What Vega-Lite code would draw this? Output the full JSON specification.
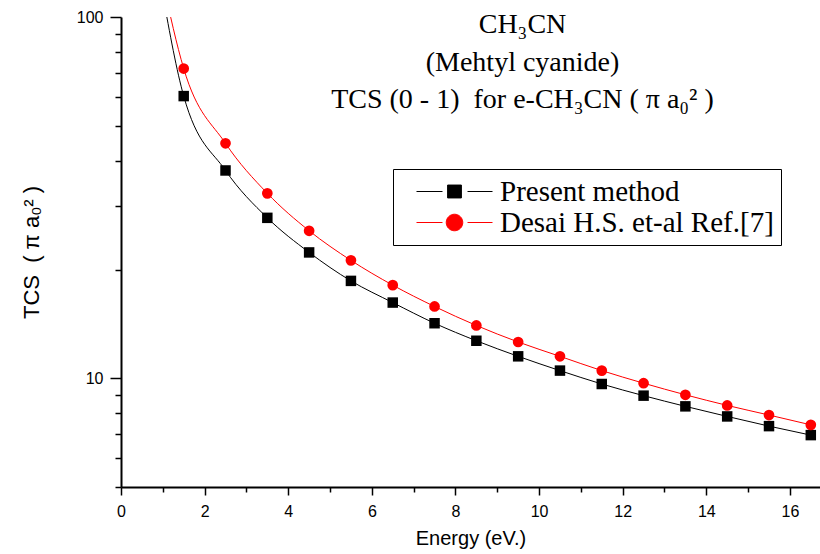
{
  "$schema": "https://vega.github.io/schema/vega-lite/v6.json",
  "width": 699,
  "height": 470,
  "autosize": {"type": "none"},
  "padding": {"left": 121, "top": 17, "right": 0, "bottom": 67},
  "background": "white",
  "config": {"view": {"stroke": null}},
  "title": {
    "text": ["CH₃CN", "(Mehtyl cyanide)", "TCS (0 - 1)\u00a0\u00a0for e-CH₃CN (\u00a0π\u00a0a₀²\u00a0)"],
    "font": "Liberation Serif",
    "fontSize": 28,
    "fontWeight": "normal",
    "color": "black",
    "lineHeight": 37.5,
    "anchor": "middle",
    "frame": "group",
    "orient": "top",
    "baseline": "alphabetic",
    "offset": 0,
    "dx": 52,
    "dy": 127
  },
  "data": {
    "values": [
      {"series": "Present method", "E": 1.0, "TCS": 115},
      {"series": "Present method", "E": 1.5, "TCS": 60.4},
      {"series": "Present method", "E": 2.5, "TCS": 37.6},
      {"series": "Present method", "E": 3.5, "TCS": 27.8},
      {"series": "Present method", "E": 4.5, "TCS": 22.3},
      {"series": "Present method", "E": 5.5, "TCS": 18.6},
      {"series": "Present method", "E": 6.5, "TCS": 16.2},
      {"series": "Present method", "E": 7.5, "TCS": 14.2},
      {"series": "Present method", "E": 8.5, "TCS": 12.7},
      {"series": "Present method", "E": 9.5, "TCS": 11.5},
      {"series": "Present method", "E": 10.5, "TCS": 10.5},
      {"series": "Present method", "E": 11.5, "TCS": 9.64},
      {"series": "Present method", "E": 12.5, "TCS": 8.95},
      {"series": "Present method", "E": 13.5, "TCS": 8.36},
      {"series": "Present method", "E": 14.5, "TCS": 7.84},
      {"series": "Present method", "E": 15.5, "TCS": 7.37},
      {"series": "Present method", "E": 16.5, "TCS": 6.96},
      {"series": "Desai H.S. et-al Ref.[7]", "E": 1.0, "TCS": 125},
      {"series": "Desai H.S. et-al Ref.[7]", "E": 1.5, "TCS": 72.0},
      {"series": "Desai H.S. et-al Ref.[7]", "E": 2.5, "TCS": 44.7},
      {"series": "Desai H.S. et-al Ref.[7]", "E": 3.5, "TCS": 32.5},
      {"series": "Desai H.S. et-al Ref.[7]", "E": 4.5, "TCS": 25.6},
      {"series": "Desai H.S. et-al Ref.[7]", "E": 5.5, "TCS": 21.2},
      {"series": "Desai H.S. et-al Ref.[7]", "E": 6.5, "TCS": 18.1},
      {"series": "Desai H.S. et-al Ref.[7]", "E": 7.5, "TCS": 15.8},
      {"series": "Desai H.S. et-al Ref.[7]", "E": 8.5, "TCS": 14.0},
      {"series": "Desai H.S. et-al Ref.[7]", "E": 9.5, "TCS": 12.6},
      {"series": "Desai H.S. et-al Ref.[7]", "E": 10.5, "TCS": 11.5},
      {"series": "Desai H.S. et-al Ref.[7]", "E": 11.5, "TCS": 10.5},
      {"series": "Desai H.S. et-al Ref.[7]", "E": 12.5, "TCS": 9.69},
      {"series": "Desai H.S. et-al Ref.[7]", "E": 13.5, "TCS": 9.0},
      {"series": "Desai H.S. et-al Ref.[7]", "E": 14.5, "TCS": 8.41},
      {"series": "Desai H.S. et-al Ref.[7]", "E": 15.5, "TCS": 7.91},
      {"series": "Desai H.S. et-al Ref.[7]", "E": 16.5, "TCS": 7.43}
    ]
  },
  "encoding": {
    "x": {
      "field": "E",
      "type": "quantitative",
      "scale": {"domain": [0, 16.72], "nice": false, "zero": false},
      "axis": {
        "title": "Energy (eV.)",
        "titleFont": "Liberation Sans",
        "titleFontSize": 20,
        "titleFontWeight": "normal",
        "titleColor": "black",
        "titlePadding": 9,
        "values": [0,1,2,3,4,5,6,7,8,9,10,11,12,13,14,15,16],
        "format": "d",
        "labelExpr": "datum.value % 2 === 0 ? datum.label : ''",
        "labelFont": "Liberation Sans",
        "labelFontSize": 16,
        "labelColor": "black",
        "labelPadding": 8,
        "labelFlush": false,
        "labelOverlap": false,
        "tickColor": "black",
        "tickWidth": 1.5,
        "tickSize": {"condition": {"test": "datum.value % 2 === 0", "value": 8}, "value": 5},
        "domainColor": "black",
        "domainWidth": 2,
        "grid": false
      }
    },
    "y": {
      "field": "TCS",
      "type": "quantitative",
      "scale": {"type": "log", "domain": [5, 100], "nice": false},
      "axis": {
        "title": "TCS\u00a0\u00a0(\u00a0π\u00a0a₀²\u00a0)",
        "titleFont": "Liberation Sans",
        "titleFontSize": 22,
        "titleFontWeight": "normal",
        "titleColor": "black",
        "titlePadding": 33,
        "values": [5,6,7,8,9,10,20,30,40,50,60,70,80,90,100],
        "format": "d",
        "labelExpr": "datum.value === 10 || datum.value === 100 ? datum.label : ''",
        "labelFont": "Liberation Sans",
        "labelFontSize": 16,
        "labelColor": "black",
        "labelPadding": 7,
        "labelFlush": false,
        "labelOverlap": false,
        "tickColor": "black",
        "tickWidth": 1.5,
        "tickSize": {"condition": {"test": "datum.value === 10 || datum.value === 100", "value": 11}, "value": 6},
        "domainColor": "black",
        "domainWidth": 2,
        "grid": false
      }
    },
    "color": {
      "field": "series",
      "type": "nominal",
      "scale": {"domain": ["Present method", "Desai H.S. et-al Ref.[7]"], "range": ["#000000", "#ff0000"]},
      "legend": {
        "title": null,
        "orient": "none",
        "legendX": 272,
        "legendY": 152,
        "strokeColor": "black",
        "fillColor": "white",
        "padding": 7,
        "labelFont": "Liberation Serif",
        "labelFontSize": 29,
        "labelColor": "black",
        "labelLimit": 600,
        "labelOffset": 7,
        "symbolSize": 8464,
        "clipHeight": 31,
        "rowPadding": 0,
        "symbolStrokeWidth": 1,
        "encode": {
          "symbols": {
            "update": {
              "shape": {"signal": "datum.value === 'Present method' ? 'M-0.652,0H-0.087M0.024,-0.14H0.324V0.14H0.024ZM0.457,0H1' : 'M-0.652,0H-0.087M-0.006,0A0.18,0.18,0,1,1,0.354,0A0.18,0.18,0,1,1,-0.006,0ZM0.457,0H1'"},
              "fill": {"signal": "datum.value === 'Present method' ? '#000000' : '#ff0000'"},
              "stroke": {"signal": "datum.value === 'Present method' ? '#000000' : '#ff0000'"},
              "strokeWidth": {"value": 1},
              "opacity": {"value": 1},
              "fillOpacity": {"value": 1}
            }
          }
        }
      }
    }
  },
  "layer": [
    {
      "mark": {"type": "line", "interpolate": "monotone", "strokeWidth": 1, "clip": true}
    },
    {
      "transform": [{"filter": "datum.E >= 1.5 && datum.series === 'Present method'"}],
      "mark": {"type": "point", "shape": "square", "filled": true, "opacity": 1, "size": 110}
    },
    {
      "transform": [{"filter": "datum.E >= 1.5 && datum.series !== 'Present method'"}],
      "mark": {"type": "point", "shape": "circle", "filled": true, "opacity": 1, "size": 115}
    }
  ]
}
